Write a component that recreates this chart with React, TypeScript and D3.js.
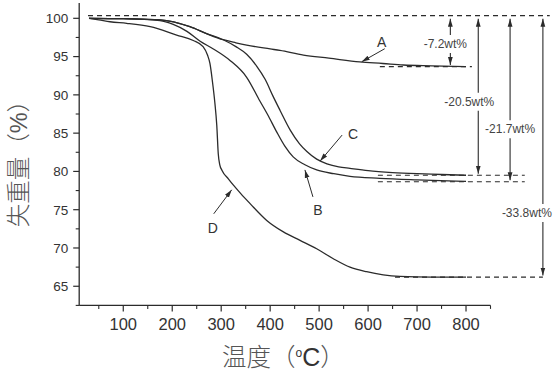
import React from "react";
import * as d3 from "d3";

// ---- data (temperature °C, residual weight %) ----
const curveA: [number, number][] = [
  [30, 100], [100, 99.95], [175, 99.8], [236, 98.9], [270, 98.0], [304, 97.2], [330, 96.8],
  [352, 96.5], [400, 96.0], [420, 95.8], [468, 95.2], [520, 94.8], [583, 94.3], [630, 94.1],
  [672, 93.9], [730, 93.8], [800, 93.7],
];
const curveB: [number, number][] = [
  [30, 100], [100, 99.95], [175, 99.7], [202, 99.2], [230, 98.3], [257, 97.0], [284, 96.0],
  [318, 94.5], [352, 92.3], [379, 89.2], [395, 87.4], [413, 85.2], [430, 83.3], [447, 81.9],
  [470, 80.9], [495, 80.2], [530, 79.7], [563, 79.35], [624, 79.1], [700, 78.9], [800, 78.7],
];
const curveC: [number, number][] = [
  [30, 100], [100, 99.95], [175, 99.8], [236, 98.9], [270, 98.0], [304, 97.2], [330, 96.3],
  [352, 95.3], [372, 93.8], [390, 92.0], [406, 89.8], [420, 88.0], [441, 85.4], [460, 83.6],
  [475, 82.6], [495, 81.6], [516, 81.0], [540, 80.6], [563, 80.4], [600, 80.1], [650, 79.85],
  [700, 79.7], [750, 79.6], [800, 79.5],
];
const curveD: [number, number][] = [
  [30, 100], [50, 99.8], [73, 99.55], [107, 99.35], [155, 98.9], [209, 97.8], [243, 97.1],
  [263, 96.3], [272, 95.2], [277, 94.1], [282, 91.8], [287, 89.0], [291, 86.0], [294, 82.3],
  [297, 80.9], [302, 80.1], [315, 79.0], [325, 78.2], [340, 77.1], [359, 75.8], [393, 73.6],
  [427, 72.1], [461, 71.0], [495, 69.9], [529, 68.6], [563, 67.5], [597, 66.9], [631, 66.5],
  [665, 66.3], [730, 66.2], [800, 66.2],
];

const xTicks = [100, 200, 300, 400, 500, 600, 700, 800];
const yTicks = [65, 70, 75, 80, 85, 90, 95, 100];

// curve labels: name, point on curve (T, W)
const curveLabels = [
  { name: "A", t: 587, w: 94.33 },
  { name: "C", t: 502, w: 81.35 },
  { name: "B", t: 471, w: 80.2 },
  { name: "D", t: 321.5, w: 77.6 },
];

// reference level for the start of decomposition
const startLevel = 100.35;
const startSpan = [28, 971];

// weight-loss annotations: label, final level, temperature of arrow, dashed span
const losses = [
  { label: "-7.2wt%", level: 93.7, at: 768, from: 624, to: 812 },
  { label: "-20.5wt%", level: 79.5, at: 825, from: 620, to: 920 },
  { label: "-21.7wt%", level: 78.65, at: 890, from: 620, to: 920 },
  { label: "-33.8wt%", level: 66.2, at: 957, from: 655, to: 957 },
];

const W = 556;
const H = 376;

export default function App() {
  const x = d3.scaleLinear().domain([10, 850]).range([79.2, 490.5]);
  const y = d3.scaleLinear().domain([62.5, 102]).range([305.4, 3]);

  const line = d3
    .line<[number, number]>()
    .x((d) => x(d[0]))
    .y((d) => y(d[1]))
    .curve(d3.curveMonotoneX);

  const ink = "#2b2b2b";
  const textCol = "#333";
  const sans = "Arial, 'Liberation Sans', sans-serif";
  const cjk = "'Noto Sans CJK SC', sans-serif";

  const minorX = d3.range(50, 851, 100);
  const minorY = d3.range(62.5, 102, 5);

  // layout for annotations (pixel offsets)
  const labelLayout: Record<string, { tail: [number, number]; text: [number, number] }> = {
    A: { tail: [23, -13], text: [20, -20] },
    C: { tail: [22, -26], text: [33, -27] },
    B: { tail: [8, 27], text: [13, 40] },
    D: { tail: [-18, 24], text: [-19, 38] },
  };
  const lossTextDx = [-5, -9, 0, -16];
  const lossTextY = [44, 101.7, 129.3, 213];

  const yTop = y(startLevel);

  return (
    <svg
      width={W}
      height={H}
      style={{ position: "absolute", left: 0, top: 0, background: "#fff" }}
    >
      <defs>
        <marker
          id="ah"
          viewBox="0 0 10 10"
          refX={10}
          refY={5}
          markerWidth={8}
          markerHeight={8}
          markerUnits="userSpaceOnUse"
          orient="auto"
        >
          <path d="M0,2 L10,5 L0,8 z" fill={ink} />
        </marker>
      </defs>

      {/* axes */}
      <line x1={x(10)} x2={x(10)} y1={y(102)} y2={y(62.5)} stroke={ink} strokeWidth={1.3} />
      <line x1={x(10)} x2={x(850)} y1={y(62.5)} y2={y(62.5)} stroke={ink} strokeWidth={1.3} />
      {yTicks.map((v) => (
        <g key={"yt" + v}>
          <line x1={x(10) - 6} x2={x(10)} y1={y(v)} y2={y(v)} stroke={ink} strokeWidth={1.2} />
          <text
            x={x(10) - 11}
            y={y(v) + 4.8}
            textAnchor="end"
            fontFamily={sans}
            fontSize={13.5}
            fill={textCol}
          >
            {v}
          </text>
        </g>
      ))}
      {minorY.map((v) => (
        <line key={"my" + v} x1={x(10) - 3.5} x2={x(10)} y1={y(v)} y2={y(v)} stroke={ink} strokeWidth={1.1} />
      ))}
      {xTicks.map((v) => (
        <g key={"xt" + v}>
          <line x1={x(v)} x2={x(v)} y1={y(62.5)} y2={y(62.5) + 6} stroke={ink} strokeWidth={1.2} />
          <text
            x={x(v)}
            y={y(62.5) + 25}
            textAnchor="middle"
            fontFamily={sans}
            fontSize={16.5}
            fill={textCol}
          >
            {v}
          </text>
        </g>
      ))}
      {minorX.map((v) => (
        <line key={"mx" + v} x1={x(v)} x2={x(v)} y1={y(62.5)} y2={y(62.5) + 3.5} stroke={ink} strokeWidth={1.1} />
      ))}

      {/* axis titles */}
      <text
        transform={`translate(27,158) rotate(-90)`}
        textAnchor="middle"
        fontFamily={cjk}
        fontSize={23.5}
        fontWeight={300}
        fill="#555"
      >
        失重量（<tspan fontFamily={sans}>%</tspan>）
      </text>
      <text x={222} y={366} fontFamily={cjk} fontSize={24.5} fontWeight={300} fill="#555">
        温度（<tspan fontFamily={sans} fontSize={25} fill="#333">
          <tspan dy={-9} fontSize={12}>o</tspan>
          <tspan dy={9}>C</tspan>
        </tspan>）
      </text>

      {/* reference dashed lines */}
      <line
        x1={x(startSpan[0])}
        x2={x(startSpan[1])}
        y1={yTop}
        y2={yTop}
        stroke={ink}
        strokeWidth={1.2}
        strokeDasharray="5,4"
      />
      {losses.map((l) => (
        <line
          key={"dl" + l.label}
          x1={x(l.from)}
          x2={x(l.to)}
          y1={y(l.level)}
          y2={y(l.level)}
          stroke={ink}
          strokeWidth={1.2}
          strokeDasharray="5,4"
        />
      ))}

      {/* curves */}
      {[curveA, curveB, curveC, curveD].map((c, i) => (
        <path key={"c" + i} d={line(c) || ""} fill="none" stroke={ink} strokeWidth={1.3} />
      ))}

      {/* weight loss arrows */}
      {losses.map((l, i) => {
        const ax = x(l.at);
        const ty = lossTextY[i];
        const yb = y(l.level);
        return (
          <g key={"la" + l.label}>
            <line x1={ax} x2={ax} y1={ty - 9} y2={yTop + 3} stroke={ink} strokeWidth={1.1} markerEnd="url(#ah)" />
            <line x1={ax} x2={ax} y1={ty + 9} y2={yb - 1.5} stroke={ink} strokeWidth={1.1} markerEnd="url(#ah)" />
            <text
              x={ax + lossTextDx[i]}
              y={ty + 4}
              textAnchor="middle"
              fontFamily={sans}
              fontSize={12}
              fill="#444"
            >
              {l.label}
            </text>
          </g>
        );
      })}

      {/* curve labels */}
      {curveLabels.map((c) => {
        const px = x(c.t);
        const py = y(c.w);
        const L = labelLayout[c.name];
        return (
          <g key={"cl" + c.name}>
            <line
              x1={px + L.tail[0]}
              y1={py + L.tail[1]}
              x2={px}
              y2={py}
              stroke={ink}
              strokeWidth={1}
              markerEnd="url(#ah)"
            />
            <text
              x={px + L.text[0]}
              y={py + L.text[1] + 5}
              textAnchor="middle"
              fontFamily={sans}
              fontSize={14}
              fill={textCol}
            >
              {c.name}
            </text>
          </g>
        );
      })}
    </svg>
  );
}
